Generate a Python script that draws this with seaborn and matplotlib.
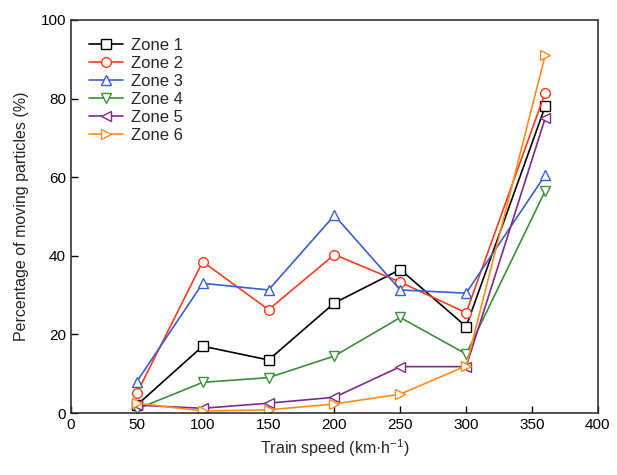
import matplotlib
matplotlib.use("Agg")
import matplotlib.pyplot as plt
import seaborn as sns
import pandas as pd

speeds = [50, 100, 150, 200, 250, 300, 360]
zone1 = [2.0, 17.0, 13.5, 28.0, 36.5, 22.0, 78.0]
zone2 = [5.0, 38.5, 26.3, 40.3, 33.3, 25.5, 81.5]
zone3 = [8.0, 33.0, 31.3, 50.3, 31.3, 30.5, 60.5]
zone4 = [1.0, 7.8, 9.0, 14.5, 24.3, 15.0, 56.5]
zone5 = [2.0, 1.2, 2.5, 4.0, 11.8, 11.8, 75.0]
zone6 = [2.5, 0.5, 0.8, 2.3, 4.8, 12.0, 91.0]
zone_names = ["Zone 1", "Zone 2", "Zone 3", "Zone 4", "Zone 5", "Zone 6"]
xticks = [0, 50, 100, 150, 200, 250, 300, 350, 400]
yticks = [0, 20, 40, 60, 80, 100]

sns.set_theme(style="white")
plt.rcParams['font.family'] = ['Liberation Sans', 'DejaVu Sans']
plt.rcParams['mathtext.default'] = 'regular'

colors = ["#000000", "#ff3a1a", "#3a5fc8", "#3a8f3a", "#7d2a8e", "#ff8c1a"]
markers = ["s", "o", "^", "v", "<", ">"]

fig = plt.figure(figsize=(6.17, 4.75), dpi=100)
ax = fig.add_axes([0.115, 0.1305, 0.854, 0.8275])

for name, vals, c, m in zip(zone_names, [zone1, zone2, zone3, zone4, zone5, zone6], colors, markers):
    df = pd.DataFrame({"speed": speeds, "pct": vals})
    sns.lineplot(data=df, x="speed", y="pct", ax=ax, color=c, marker=m,
                 markersize=7, markerfacecolor="white", markeredgecolor=c,
                 markeredgewidth=1.0, linewidth=1.2, label=name)

ax.set_xlim(0, 400)
ax.set_ylim(0, 100)
ax.set_xticks(xticks)
ax.set_yticks(yticks)
ax.tick_params(direction="in", length=5, width=1, labelsize=11, colors="black", bottom=True, left=True)
for s in ax.spines.values():
    s.set_color("#333333")
    s.set_linewidth(1.2)
ax.set_xlabel("Train speed (km·h$^{-1}$)", fontsize=11.5)
ax.set_ylabel("Percentage of moving particles (%)", fontsize=11.5, labelpad=8)
leg = ax.legend(loc="upper left", frameon=False, fontsize=12, handlelength=2.0,
                labelspacing=0.18, borderaxespad=0.6, borderpad=0.5, handletextpad=0.5)
fig.savefig("out.png", dpi=100)
